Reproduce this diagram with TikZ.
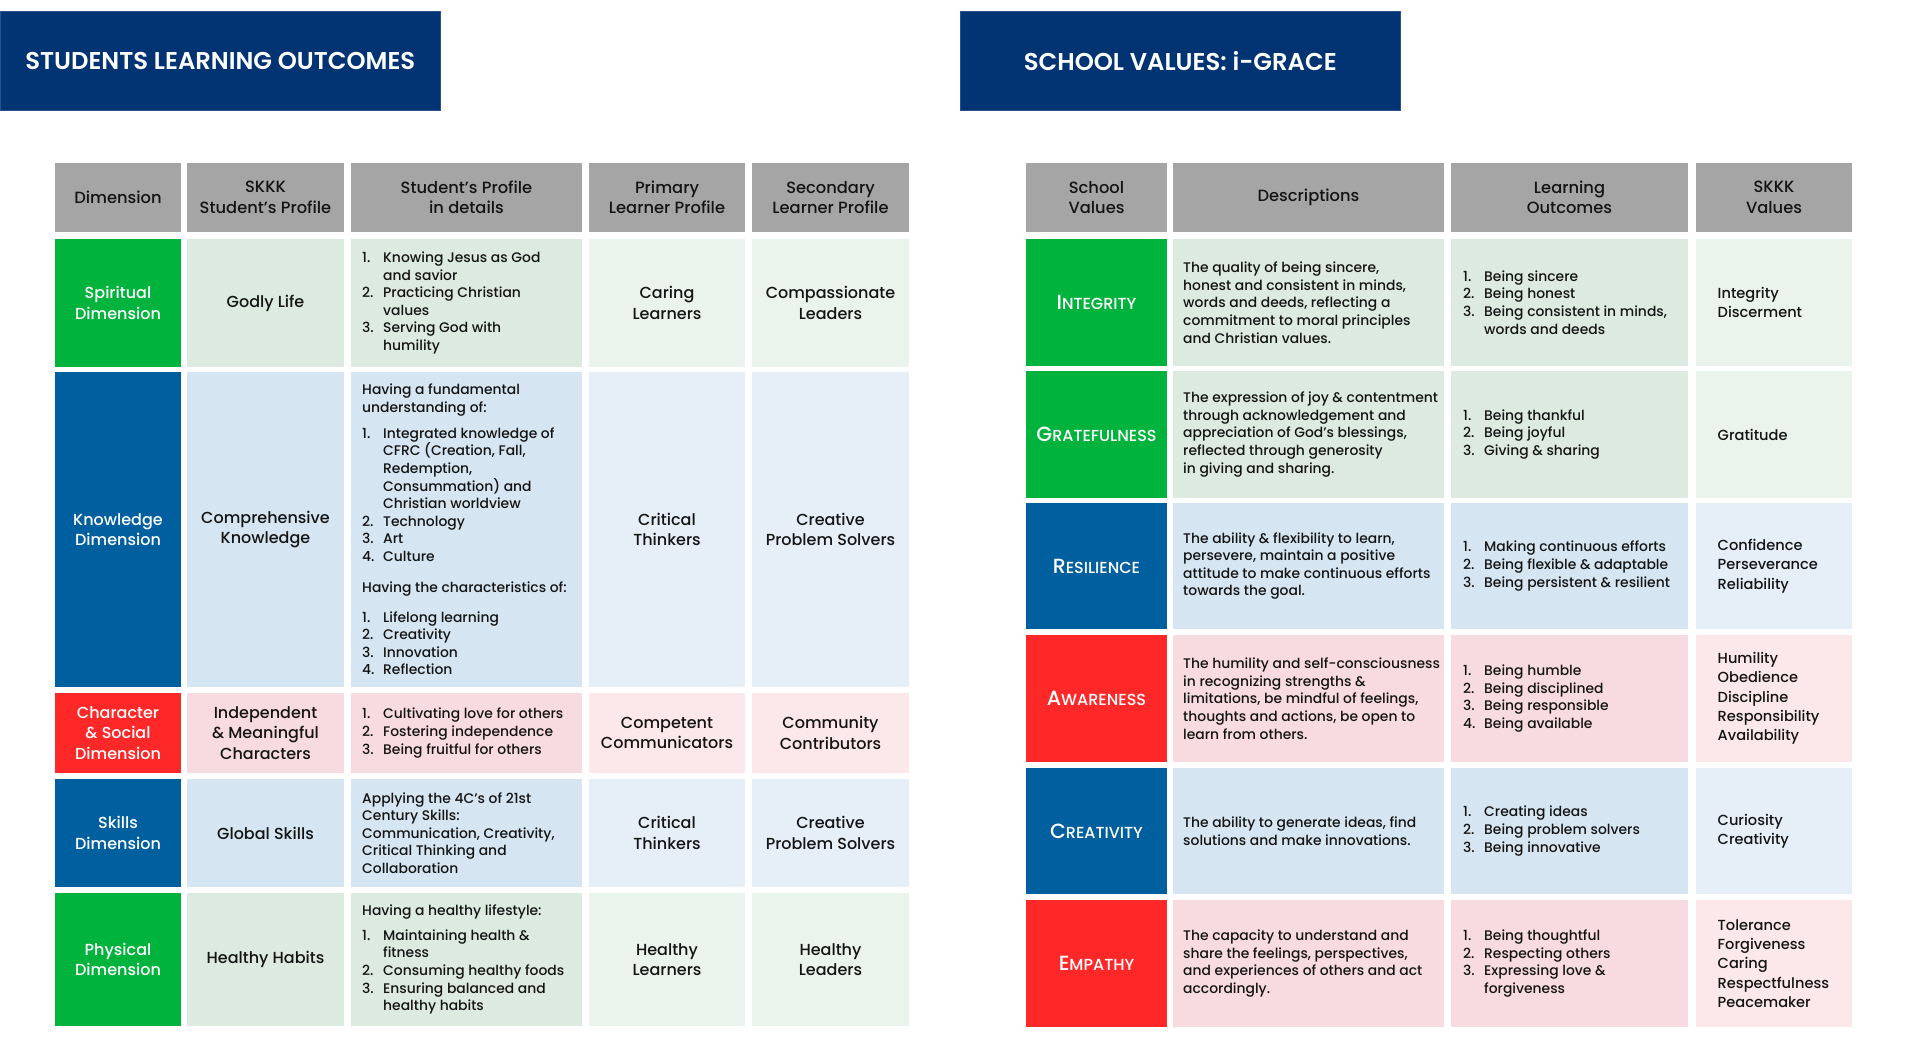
\documentclass[tikz,border=0pt]{standalone}
\usepackage{fontspec}
\setmainfont{Poppins}[UprightFont={* Medium}, BoldFont={* SemiBold}]
\definecolor{titleblue}{HTML}{023473}
\definecolor{titleedge}{HTML}{2A5190}
\definecolor{hdr}{HTML}{A6A5A6}
\definecolor{gD}{HTML}{00B33C}
\definecolor{bD}{HTML}{00609F}
\definecolor{rD}{HTML}{FF2828}
\definecolor{gM}{HTML}{DDEADF}
\definecolor{gL}{HTML}{EAF3EC}
\definecolor{bM}{HTML}{D5E6F2}
\definecolor{bL}{HTML}{E6EFF8}
\definecolor{rM}{HTML}{F8DBE0}
\definecolor{rL}{HTML}{FCE8EB}
\definecolor{ink}{HTML}{141414}
\newcommand\fhead{\fontsize{16.3}{20.5}\selectfont}
\newcommand\fmain{\fontsize{16}{20.7}\selectfont}
\newcommand\flist{\fontsize{13.9}{17.6}\selectfont}
\newcommand\fval{\fontsize{14.6}{19.3}\selectfont}
\newcommand\ftitle{\fontsize{24.3}{28}\selectfont\bfseries}
\newcommand\li[2]{\makebox[21pt][l]{#1}#2}
\newcommand\lc[1]{\hspace*{21pt}#1}
\newcommand\sv[2]{{\fontsize{20.5}{20}\selectfont #1}{\fontsize{16}{20}\selectfont #2}}
\newcommand\cellbox[6]{\node[cellbase, fill=#6, minimum width={(#4-#2)*1pt}, minimum height={(#5-#3)*1pt}] (#1) at ({(#2+#4)/2},{(#3+#5)/2}) {};}
\begin{document}
\begin{tikzpicture}[x=1pt,y=-1pt,
  cellbase/.style={rectangle, inner sep=0pt, outer sep=0pt, draw=none},
  titlebox/.style={rectangle, fill=titleblue, draw=titleedge, line width=0.8pt, inner sep=0pt, text=white, font=\ftitle},
  ctext/.style={align=center, inner sep=0pt, text=ink, font=\fmain},
  htext/.style={align=center, inner sep=0pt, text=ink, font=\fhead},
  wtext/.style={align=center, inner sep=0pt, text=white, font=\fmain},
  ltext/.style={align=left, inner sep=0pt, anchor=west, text=ink, font=\flist},
  vtext/.style={align=left, inner sep=0pt, anchor=west, text=ink, font=\fval}]
\fill[white] (0,0) rectangle (1920,1043);
\useasboundingbox (0,0) rectangle (1920,1043);

% titles
\node[titlebox, minimum width=440.6pt, minimum height=99.7pt] (title1) at (220.3,60.85) {STUDENTS LEARNING OUTCOMES};
\node[titlebox, minimum width=440.6pt, minimum height=99.7pt] (title2) at (1180.3,60.85) {SCHOOL VALUES: i-GRACE};

% ---------- left table cells ----------
\foreach \n/\a/\b in {1/55/181,2/187/344,3/351/582,4/589/745,5/752/909}{
  \cellbox{LH\n}{\a}{163}{\b}{232}{hdr}
}
\foreach \r/\ya/\yb/\cd/\cm/\cl in {1/239/367/gD/gM/gL,2/372/687/bD/bM/bL,3/693/773/rD/rM/rL,4/779/887/bD/bM/bL,5/893/1026/gD/gM/gL}{
  \cellbox{L\r1}{55}{\ya}{181}{\yb}{\cd}
  \cellbox{L\r2}{187}{\ya}{344}{\yb}{\cm}
  \cellbox{L\r3}{351}{\ya}{582}{\yb}{\cm}
  \cellbox{L\r4}{589}{\ya}{745}{\yb}{\cl}
  \cellbox{L\r5}{752}{\ya}{909}{\yb}{\cl}
}

% ---------- right table cells ----------
\foreach \n/\a/\b in {1/1026/1167,2/1173/1444,3/1451/1688,4/1696/1852}{
  \cellbox{RH\n}{\a}{163}{\b}{232}{hdr}
}
\foreach \r/\ya/\yb/\cd/\cm/\cl in {1/239/366/gD/gM/gL,2/371/498/gD/gM/gL,3/503/629/bD/bM/bL,4/635/762/rD/rM/rL,5/768/894/bD/bM/bL,6/900/1027/rD/rM/rL}{
  \cellbox{R\r1}{1026}{\ya}{1167}{\yb}{\cd}
  \cellbox{R\r2}{1173}{\ya}{1444}{\yb}{\cm}
  \cellbox{R\r3}{1451}{\ya}{1688}{\yb}{\cm}
  \cellbox{R\r4}{1696}{\ya}{1852}{\yb}{\cl}
}

% ---------- left table text ----------
\node[htext] (tLH1) at (LH1) {Dimension};
\node[htext] (tLH2) at (LH2) {SKKK\\Student’s Profile};
\node[htext] (tLH3) at (LH3) {Student’s Profile\\in details};
\node[htext] (tLH4) at (LH4) {Primary\\Learner Profile};
\node[htext] (tLH5) at (LH5) {Secondary\\Learner Profile};

\node[wtext] (tL11) at (L11) {Spiritual\\Dimension};
\node[ctext] (tL12) at (L12) {Godly Life};
\node[ltext] (tL13) at ([xshift=11pt]L13.west) {\li{1.}{Knowing Jesus as God}\\\lc{and savior}\\\li{2.}{Practicing Christian}\\\lc{values}\\\li{3.}{Serving God with}\\\lc{humility}};
\node[ctext] (tL14) at (L14) {Caring\\Learners};
\node[ctext] (tL15) at (L15) {Compassionate\\Leaders};

\node[wtext] (tL21) at (L21) {Knowledge\\Dimension};
\node[ctext] (tL22) at (L22) {Comprehensive\\Knowledge};
\node[ltext] (tL23) at ([xshift=11pt]L23.west) {Having a fundamental\\understanding of:\\[8.3pt]\li{1.}{Integrated knowledge of}\\\lc{CFRC (Creation, Fall,}\\\lc{Redemption,}\\\lc{Consummation) and}\\\lc{Christian worldview}\\\li{2.}{Technology}\\\li{3.}{Art}\\\li{4.}{Culture}\\[13pt]Having the characteristics of:\\[12.3pt]\li{1.}{Lifelong learning}\\\li{2.}{Creativity}\\\li{3.}{Innovation}\\\li{4.}{Reflection}};
\node[ctext] (tL24) at (L24) {Critical\\Thinkers};
\node[ctext] (tL25) at (L25) {Creative\\Problem Solvers};

\node[wtext] (tL31) at (L31) {Character\\\& Social\\Dimension};
\node[ctext] (tL32) at (L32) {Independent\\\& Meaningful\\Characters};
\node[ltext] (tL33) at ([xshift=11pt]L33.west) {\li{1.}{Cultivating love for others}\\\li{2.}{Fostering independence}\\\li{3.}{Being fruitful for others}};
\node[ctext] (tL34) at (L34) {Competent\\Communicators};
\node[ctext] (tL35) at (L35) {Community\\Contributors};

\node[wtext] (tL41) at (L41) {Skills\\Dimension};
\node[ctext] (tL42) at (L42) {Global Skills};
\node[ltext] (tL43) at ([xshift=11pt]L43.west) {Applying the 4C’s of 21st\\Century Skills:\\Communication, Creativity,\\Critical Thinking and\\Collaboration};
\node[ctext] (tL44) at (L44) {Critical\\Thinkers};
\node[ctext] (tL45) at (L45) {Creative\\Problem Solvers};

\node[wtext] (tL51) at (L51) {Physical\\Dimension};
\node[ctext] (tL52) at (L52) {Healthy Habits};
\node[ltext] (tL53) at ([xshift=11pt]L53.west) {Having a healthy lifestyle:\\[7.3pt]\li{1.}{Maintaining health \&}\\\lc{fitness}\\\li{2.}{Consuming healthy foods}\\\li{3.}{Ensuring balanced and}\\\lc{healthy habits}};
\node[ctext] (tL54) at (L54) {Healthy\\Learners};
\node[ctext] (tL55) at (L55) {Healthy\\Leaders};

% ---------- right table text ----------
\node[htext] (tRH1) at (RH1) {School\\Values};
\node[htext] (tRH2) at (RH2) {Descriptions};
\node[htext] (tRH3) at (RH3) {Learning\\Outcomes};
\node[htext] (tRH4) at (RH4) {SKKK\\Values};

\node[wtext] (tR11) at (R11) {\sv{I}{NTEGRITY}};
\node[ltext] (tR12) at ([xshift=10pt]R12.west) {The quality of being sincere,\\honest and consistent in minds,\\words and deeds, reflecting a\\commitment to moral principles\\and Christian values.};
\node[ltext] (tR13) at ([xshift=12pt]R13.west) {\li{1.}{Being sincere}\\\li{2.}{Being honest}\\\li{3.}{Being consistent in minds,}\\\lc{words and deeds}};
\node[vtext] (tR14) at ([xshift=21.5pt]R14.west) {Integrity\\Discerment};

\node[wtext] (tR21) at (R21) {\sv{G}{RATEFULNESS}};
\node[ltext] (tR22) at ([xshift=10pt]R22.west) {The expression of joy \& contentment\\through acknowledgement and\\appreciation of God’s blessings,\\reflected through generosity\\in giving and sharing.};
\node[ltext] (tR23) at ([xshift=12pt]R23.west) {\li{1.}{Being thankful}\\\li{2.}{Being joyful}\\\li{3.}{Giving \& sharing}};
\node[vtext] (tR24) at ([xshift=21.5pt]R24.west) {Gratitude};

\node[wtext] (tR31) at (R31) {\sv{R}{ESILIENCE}};
\node[ltext] (tR32) at ([xshift=10pt]R32.west) {The ability \& flexibility to learn,\\persevere, maintain a positive\\attitude to make continuous efforts\\towards the goal.};
\node[ltext] (tR33) at ([xshift=12pt]R33.west) {\li{1.}{Making continuous efforts}\\\li{2.}{Being flexible \& adaptable}\\\li{3.}{Being persistent \& resilient}};
\node[vtext] (tR34) at ([xshift=21.5pt]R34.west) {Confidence\\Perseverance\\Reliability};

\node[wtext] (tR41) at (R41) {\sv{A}{WARENESS}};
\node[ltext] (tR42) at ([xshift=10pt]R42.west) {The humility and self-consciousness\\in recognizing strengths \&\\limitations, be mindful of feelings,\\thoughts and actions, be open to\\learn from others.};
\node[ltext] (tR43) at ([xshift=12pt]R43.west) {\li{1.}{Being humble}\\\li{2.}{Being disciplined}\\\li{3.}{Being responsible}\\\li{4.}{Being available}};
\node[vtext] (tR44) at ([xshift=21.5pt]R44.west) {Humility\\Obedience\\Discipline\\Responsibility\\Availability};

\node[wtext] (tR51) at (R51) {\sv{C}{REATIVITY}};
\node[ltext] (tR52) at ([xshift=10pt]R52.west) {The ability to generate ideas, find\\solutions and make innovations.};
\node[ltext] (tR53) at ([xshift=12pt]R53.west) {\li{1.}{Creating ideas}\\\li{2.}{Being problem solvers}\\\li{3.}{Being innovative}};
\node[vtext] (tR54) at ([xshift=21.5pt]R54.west) {Curiosity\\Creativity};

\node[wtext] (tR61) at (R61) {\sv{E}{MPATHY}};
\node[ltext] (tR62) at ([xshift=10pt]R62.west) {The capacity to understand and\\share the feelings, perspectives,\\and experiences of others and act\\accordingly.};
\node[ltext] (tR63) at ([xshift=12pt]R63.west) {\li{1.}{Being thoughtful}\\\li{2.}{Respecting others}\\\li{3.}{Expressing love \&}\\\lc{forgiveness}};
\node[vtext] (tR64) at ([xshift=21.5pt]R64.west) {Tolerance\\Forgiveness\\Caring\\Respectfulness\\Peacemaker};
\end{tikzpicture}
\end{document}
